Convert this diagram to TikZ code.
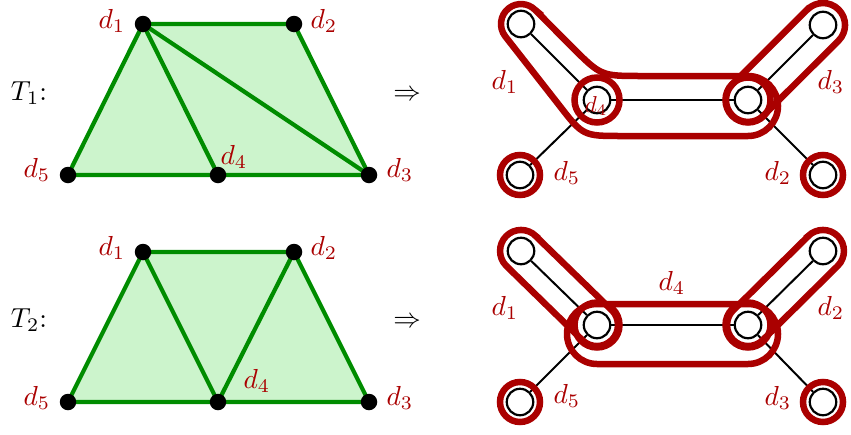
\documentclass[tikz,border=0pt]{standalone}
\usepackage{graphicx}
\usetikzlibrary{backgrounds}
\definecolor{dred}{RGB}{170,0,0}
\definecolor{gline}{RGB}{0,140,0}
\definecolor{gfill}{RGB}{204,244,204}
\newcommand\BigLbl[1]{\scalebox{2.75}{#1}}
\newcommand\SmLbl[1]{\scalebox{2.3}{#1}}
\tikzset{
  gdot/.style={circle,fill=black,minimum size=16.5,inner sep=0},
  gedge/.style={draw=gline,line width=4.2,line join=round},
  vtx/.style={circle,draw=black,fill=white,line width=2.2,minimum size=26.5,inner sep=0},
  bedge/.style={draw=black,line width=2},
  hedge/.style={draw=dred,line width=6.5},
  rlab/.style={text=dred,inner sep=0,anchor=base},
  blab/.style={text=black,inner sep=0,anchor=base},
}
\begin{document}
\begin{tikzpicture}[x=1pt,y=-1pt]
\useasboundingbox (0,0) rectangle (851,434);

% ---------- T1 triangulation ----------
\node[gdot] (a1) at (143,24) {};
\node[gdot] (a2) at (294,24) {};
\node[gdot] (a3) at (369,175) {};
\node[gdot] (a4) at (218,175) {};
\node[gdot] (a5) at (68,175) {};
\begin{scope}[on background layer]
  \fill[gfill] (a1.center) -- (a2.center) -- (a3.center) -- (a5.center) -- cycle;
  \draw[gedge] (a1.center) -- (a2.center) -- (a3.center) -- (a4.center) -- (a5.center) -- cycle;
  \draw[gedge] (a1.center) -- (a4.center);
  \draw[gedge] (a1.center) -- (a3.center);
\end{scope}
\node[rlab] (la1) at (112,28) {\BigLbl{$d_1$}};
\node[rlab] (la2) at (324,28) {\BigLbl{$d_2$}};
\node[rlab] (la5) at (37,177) {\BigLbl{$d_5$}};
\node[rlab] (la4) at (234,164) {\BigLbl{$d_4$}};
\node[rlab] (la3) at (400,177) {\BigLbl{$d_3$}};
\node[blab] (tA) at (29,100) {\BigLbl{$T_1$:}};
\node[blab] (arrA) at (407,100) {\BigLbl{$\Rightarrow$}};

% ---------- T2 triangulation ----------
\node[gdot] (b1) at (143,252) {};
\node[gdot] (b2) at (294,252) {};
\node[gdot] (b3) at (369,402) {};
\node[gdot] (b4) at (218,402) {};
\node[gdot] (b5) at (68,402) {};
\begin{scope}[on background layer]
  \fill[gfill] (b1.center) -- (b2.center) -- (b3.center) -- (b5.center) -- cycle;
  \draw[gedge] (b1.center) -- (b2.center) -- (b3.center) -- (b4.center) -- (b5.center) -- cycle;
  \draw[gedge] (b1.center) -- (b4.center);
  \draw[gedge] (b2.center) -- (b4.center);
\end{scope}
\node[rlab] (lb1) at (112,255) {\BigLbl{$d_1$}};
\node[rlab] (lb2) at (324,255) {\BigLbl{$d_2$}};
\node[rlab] (lb5) at (37,405) {\BigLbl{$d_5$}};
\node[rlab] (lb4) at (257,388) {\BigLbl{$d_4$}};
\node[rlab] (lb3) at (400,405) {\BigLbl{$d_3$}};
\node[blab] (tB) at (29,327) {\BigLbl{$T_2$:}};
\node[blab] (arrB) at (407,327) {\BigLbl{$\Rightarrow$}};

% ---------- T1 dual tree ----------
\node[vtx] (u1) at (521,24) {};
\node[vtx] (u3) at (823,25) {};
\node[vtx] (ul) at (597,100) {};
\node[vtx] (ur) at (748,100) {};
\node[vtx] (u5) at (520,175) {};
\node[vtx] (u2) at (823,175) {};
\draw[bedge] (u1) -- (ul);
\draw[bedge] (ul) -- (ur);
\draw[bedge] (ur) -- (u3);
\draw[bedge] (ul) -- (u5);
\draw[bedge] (ur) -- (u2);
\draw[hedge] (ul) circle[radius=22.5];
\draw[hedge] (ur) circle[radius=22.5];
\draw[hedge] (u5) circle[radius=20];
\draw[hedge] (u2) circle[radius=20];
\draw[hedge] (535.1,9.9) -- (572,47) .. controls (601,76) .. (642,76) -- (748,76)
  arc[start angle=-90,end angle=90,radius=30] -- (622,136)
  .. controls (583,136) .. (559,105) -- (505.2,36.3)
  arc[start angle=142.2,end angle=315,radius=20] -- cycle;
\draw[hedge] (807.4,9.4) -- (732.4,84.4) arc[start angle=225,end angle=45,radius=22]
  -- (838.6,40.6) arc[start angle=45,end angle=-135,radius=22] -- cycle;
\node[rlab] (lu1) at (505,89) {\BigLbl{$d_1$}};
\node[rlab] (lu3) at (831,89) {\BigLbl{$d_3$}};
\node[rlab] (lu5) at (567,180) {\BigLbl{$d_5$}};
\node[rlab] (lu2) at (778,180) {\BigLbl{$d_2$}};
\node[rlab] (lu4) at (596,112) {\SmLbl{$d_4$}};

% ---------- T2 dual tree ----------
\node[vtx] (v1) at (521,251) {};
\node[vtx] (v2) at (823,251) {};
\node[vtx] (vl) at (597,325) {};
\node[vtx] (vr) at (748,325) {};
\node[vtx] (v5) at (520,402) {};
\node[vtx] (v3) at (823,402) {};
\draw[bedge] (v1) -- (vl);
\draw[bedge] (vl) -- (vr);
\draw[bedge] (vr) -- (v2);
\draw[bedge] (vl) -- (v5);
\draw[bedge] (vr) -- (v3);
\draw[hedge] (vl) circle[radius=22.5];
\draw[hedge] (vr) circle[radius=22.5];
\draw[hedge] (v5) circle[radius=20];
\draw[hedge] (v3) circle[radius=20];
\draw[hedge] (535.8,236.2) -- (611.8,310.2) arc[start angle=-45,end angle=135,radius=21]
  -- (506.2,265.8) arc[start angle=135,end angle=315,radius=21] -- cycle;
\draw[hedge] (808.2,236.2) -- (733.2,310.2) arc[start angle=225,end angle=45,radius=21]
  -- (837.8,265.8) arc[start angle=45,end angle=-135,radius=21] -- cycle;
\draw[hedge] (597,304) -- (748,304) arc[start angle=-90,end angle=90,radius=30]
  -- (597,364) arc[start angle=90,end angle=270,radius=30] -- cycle;
\node[rlab] (lv1) at (505,315) {\BigLbl{$d_1$}};
\node[rlab] (lv4) at (672,290) {\BigLbl{$d_4$}};
\node[rlab] (lv2) at (831,315) {\BigLbl{$d_2$}};
\node[rlab] (lv5) at (567,403) {\BigLbl{$d_5$}};
\node[rlab] (lv3) at (778,405) {\BigLbl{$d_3$}};
\end{tikzpicture}
\end{document}
